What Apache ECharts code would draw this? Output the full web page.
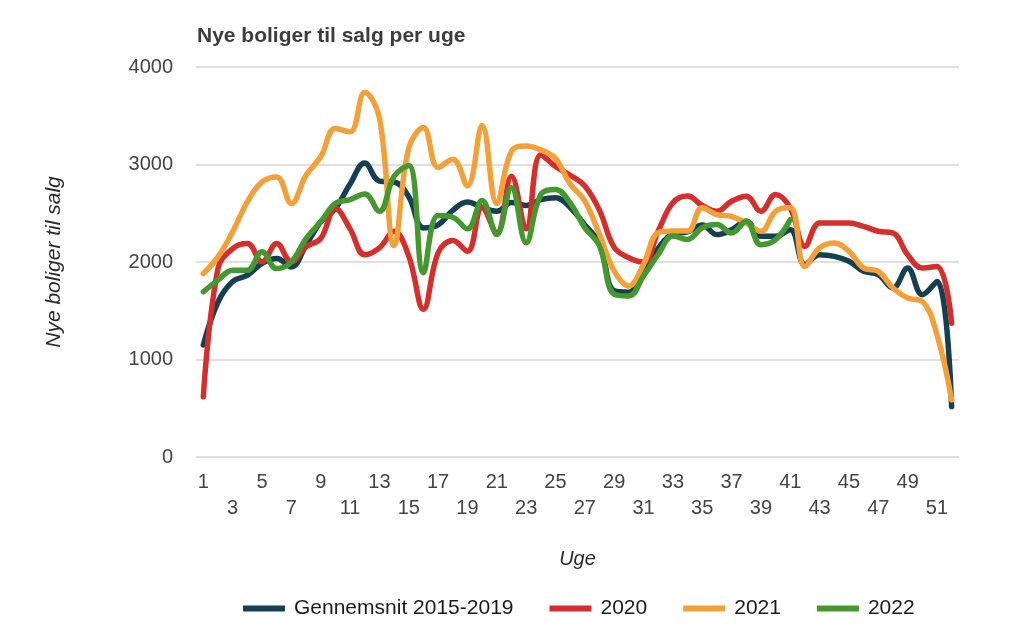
<!DOCTYPE html>
<html>
<head>
<meta charset="utf-8">
<script src="https://cdn.jsdelivr.net/npm/echarts@6/dist/echarts.min.js"></script>
<style>
  html, body { margin: 0; padding: 0; background: #fff; }
  #stage { width: 1024px; height: 642px; }
</style>
</head>
<body>
<div id="stage"></div>
<script>
'use strict';

const myChart = echarts.init(document.getElementById('stage'));

// uger 1-52
const weeks = [];
for (let i = 1; i <= 52; i++) weeks.push(String(i));

// Gennemsnit 2015-2019
const avg1519 = [1150, 1590, 1800, 1865, 1985, 2036, 1950, 2173, 2412, 2549,
  2800, 3015, 2830, 2820, 2670, 2350, 2380, 2530, 2615, 2560,
  2520, 2610, 2580, 2640, 2660, 2560, 2380, 2190, 1705, 1690,
  1910, 2140, 2290, 2310, 2380, 2281, 2332, 2418, 2264, 2264,
  2332, 1973, 2075, 2058, 2007, 1904, 1870, 1733, 1938, 1664,
  1801, 517];

const y2020 = [617, 1933, 2138, 2190, 2002, 2190, 2002, 2156, 2241, 2549,
  2340, 2075, 2145, 2315, 2060, 1515, 2095, 2220, 2110, 2560,
  2300, 2880, 2340, 3100, 2980, 2890, 2780, 2530, 2150, 2044,
  2000, 2317, 2608, 2676, 2580, 2520, 2623, 2675, 2520, 2692,
  2555, 2161, 2400, 2400, 2400, 2366, 2315, 2298, 2075, 1938,
  1955, 1373];

const y2021 = [1882, 2053, 2309, 2617, 2822, 2873, 2600, 2890, 3079, 3369,
  3335, 3740, 3480, 2170, 3170, 3380, 2970, 3054, 2782, 3400,
  2600, 3137, 3190, 3150, 3060, 2800, 2625, 2283, 1908, 1754,
  1976, 2300, 2317, 2317, 2556, 2486, 2469, 2400, 2315, 2520,
  2560, 1955, 2144, 2195, 2110, 1938, 1904, 1733, 1630, 1596,
  1253, 586];

// 2022 kun til uge 41
const y2022 = [1694, 1814, 1916, 1916, 2104, 1933, 2002, 2241, 2412, 2600,
  2640, 2697, 2520, 2880, 2990, 1890, 2476, 2459, 2340, 2630,
  2282, 2761, 2197, 2692, 2744, 2607, 2352, 2164, 1669, 1652,
  1857, 2078, 2266, 2232, 2352, 2384, 2298, 2418, 2178, 2229,
  2435];

const yTicks = [0, 1000, 2000, 3000, 4000];

const FONT = 'Liberation Sans, Arial, sans-serif';

function lineSeries(name, data, color) {
  return {
    name: name,
    type: 'line',
    data: data,
    smooth: 0.4,
    showSymbol: false,
    symbol: 'none',
    color: color,
    lineStyle: { width: 5.5, color: color, cap: 'round', join: 'round' },
    emphasis: { disabled: true }
  };
}

const option = {
  animation: false,
  backgroundColor: '#ffffff',
  title: {
    text: 'Nye boliger til salg per uge',
    left: 192,
    top: 21,
    textStyle: { fontFamily: FONT, fontSize: 21, fontWeight: 'bold', color: '#3c3c3c' }
  },
  legend: {
    top: 593,
    left: 238,
    icon: 'rect',
    itemWidth: 42,
    itemHeight: 6,
    itemGap: 36,
    textStyle: { fontFamily: FONT, fontSize: 21, color: '#1a1a1a', padding: [0, 0, 0, 4] },
    data: ['Gennemsnit 2015-2019', '2020', '2021', '2022']
  },
  grid: {
    left: 196,
    right: 65,
    top: 67,
    bottom: 185
  },
  xAxis: {
    type: 'category',
    data: weeks,
    boundaryGap: true,
    name: 'Uge',
    nameLocation: 'middle',
    nameGap: 92,
    nameTextStyle: { fontFamily: FONT, fontSize: 20, fontStyle: 'italic', color: '#2a2a2a' },
    axisLine: { show: false },
    axisTick: { show: false },
    axisLabel: {
      interval: 1,
      margin: 12,
      fontFamily: FONT,
      fontSize: 20,
      lineHeight: 26,
      color: '#444',
      formatter: function (v) {
        const w = Number(v);
        return ((w - 1) % 4 === 2) ? '\n' + v : v;
      }
    },
    splitLine: { show: false }
  },
  yAxis: {
    type: 'value',
    min: yTicks[0],
    max: yTicks[yTicks.length - 1],
    interval: 1000,
    name: 'Nye boliger til salg',
    nameLocation: 'middle',
    nameGap: 131,
    nameTextStyle: { fontFamily: FONT, fontSize: 21, fontStyle: 'italic', color: '#2a2a2a' },
    axisLine: { show: false },
    axisTick: { show: false },
    axisLabel: {
      margin: 23, fontFamily: FONT, fontSize: 20, color: '#444',
      formatter: function (v) { return String(v); }
    },
    splitLine: { lineStyle: { color: '#d6d6d6', width: 1.5 } }
  },
  series: [
    lineSeries('Gennemsnit 2015-2019', avg1519, '#173f52'),
    lineSeries('2020', y2020, '#d32f2c'),
    lineSeries('2021', y2021, '#f2a13a'),
    lineSeries('2022', y2022, '#44982f')
  ]
};

myChart.setOption(option);
</script>
</body>
</html>
